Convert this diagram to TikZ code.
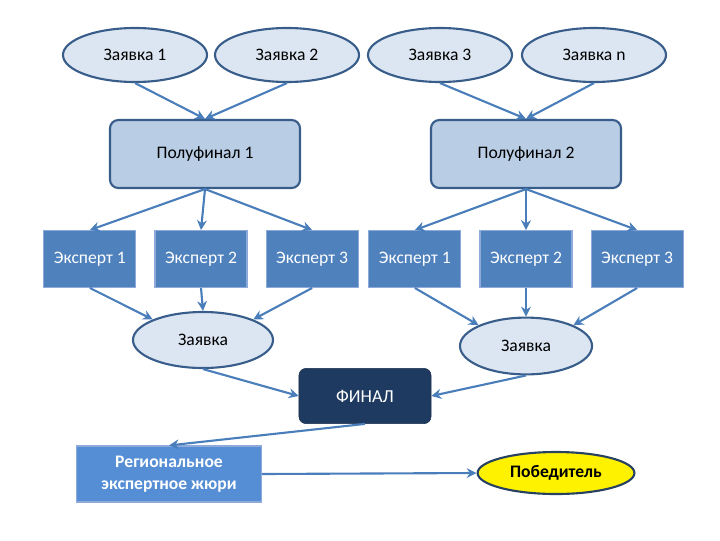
\documentclass[tikz,border=0pt]{standalone}
\usepackage{fontspec}
\setmainfont{Carlito}
\usepackage{tikz}
\usetikzlibrary{arrows.meta,positioning,shapes.geometric}
\usepackage{xcolor}
\definecolor{ovalfill}{HTML}{DCE6F2}
\definecolor{ovaldraw}{HTML}{385D8A}
\definecolor{semifill}{HTML}{B9CDE5}
\definecolor{expfill}{HTML}{4F81BD}
\definecolor{expdraw}{HTML}{8EAADB}
\definecolor{finfill}{HTML}{1F3A60}
\definecolor{jurfill}{HTML}{558ED5}
\definecolor{arrcol}{HTML}{4A7EBB}

\begin{document}
\begin{tikzpicture}[
        x=0.025cm, y=-0.025cm,
        node distance=0.45cm,
        txt/.style={font=\fontsize{12.5}{15}\selectfont},
        oval/.style={ellipse, draw=ovaldraw, fill=ovalfill, line width=1.5pt,
                     minimum width=3.6cm, minimum height=1.35cm, inner sep=0pt, txt},
        semi/.style={rectangle, draw=ovaldraw, fill=semifill, line width=1.5pt,
                     rounded corners=6pt, minimum width=4.75cm, minimum height=1.7cm, txt},
        expert/.style={rectangle, draw=expdraw, fill=expfill, line width=0.8pt,
                       minimum width=2.3cm, minimum height=1.42cm, text=white, txt},
        arr/.style={-{Stealth[length=7pt,width=7pt]}, draw=arrcol, line width=1.5pt}
      ]
      \useasboundingbox (0,0) rectangle (720,540);

      % applications
      \node[oval] (z1) at (135,55) {Заявка 1};
      \node[oval] (z2) at (287,55) {Заявка 2};
      \node[oval] (z3) at (440,55) {Заявка 3};
      \node[oval] (zn) at (594,55) {Заявка n};

      % semifinals
      \node[semi] (sf1) at (205,154) {Полуфинал 1};
      \node[semi] (sf2) at (526,154) {Полуфинал 2};

      % experts
      \node[expert] (e12) at (201,259) {Эксперт 2};
      \node[expert, left=of e12] (e11) {Эксперт 1};
      \node[expert, right=of e12] (e13) {Эксперт 3};
      \node[expert] (e22) at (526,259) {Эксперт 2};
      \node[expert, left=of e22] (e21) {Эксперт 1};
      \node[expert, right=of e22] (e23) {Эксперт 3};

      \node[oval, minimum width=3.5cm, minimum height=1.4cm] (za) at (203,340) {Заявка};
      \node[oval, minimum width=3.3cm, minimum height=1.42cm] (zb) at (526,346) {Заявка};

      \node[rectangle, draw=finfill!80!black, fill=finfill, rounded corners=5pt,
            minimum width=3.3cm, minimum height=1.38cm, text=white,
            font=\fontsize{13}{15}\selectfont] (fin) at (365,396) {ФИНАЛ};

      \node[rectangle, draw=expdraw, fill=jurfill, line width=0.8pt,
            minimum width=4.62cm, minimum height=1.4cm, text=white, align=center,
            font=\fontsize{12.5}{15.5}\selectfont\bfseries] (jury) at (169,474)
            {Региональное\\экспертное жюри};
      \node[ellipse, draw=ovaldraw!70!black, fill=yellow, line width=1.5pt,
            minimum width=3.92cm, minimum height=1.05cm, inner sep=0pt,
            font=\fontsize{12.5}{15}\selectfont\bfseries] (win) at (556,473) {Победитель};

      \draw[arr] (z1.south) -- (sf1.north);
      \draw[arr] (z2.south) -- (sf1.north);
      \draw[arr] (z3.south) -- (sf2.north);
      \draw[arr] (zn.south) -- (sf2.north);

      \draw[arr] (sf1.south) -- (e11.north);
      \draw[arr] (sf1.south) -- (e12.north);
      \draw[arr] (sf1.south) -- (e13.north);
      \draw[arr] (sf2.south) -- (e21.north);
      \draw[arr] (sf2.south) -- (e22.north);
      \draw[arr] (sf2.south) -- (e23.north);

      \draw[arr] (e11.south) -- (za.north west);
      \draw[arr] (e12.south) -- (za.north);
      \draw[arr] (e13.south) -- (za.north east);
      \draw[arr] (e21.south) -- (zb.north west);
      \draw[arr] (e22.south) -- (zb.north);
      \draw[arr] (e23.south) -- (zb.north east);

      \draw[arr] (za.south) -- (fin.west);
      \draw[arr] (zb.south) -- (fin.east);
      \draw[arr] (fin.south) -- (jury.north);
      \draw[arr] (jury.east) -- (win.west);
    \end{tikzpicture}
\end{document}
